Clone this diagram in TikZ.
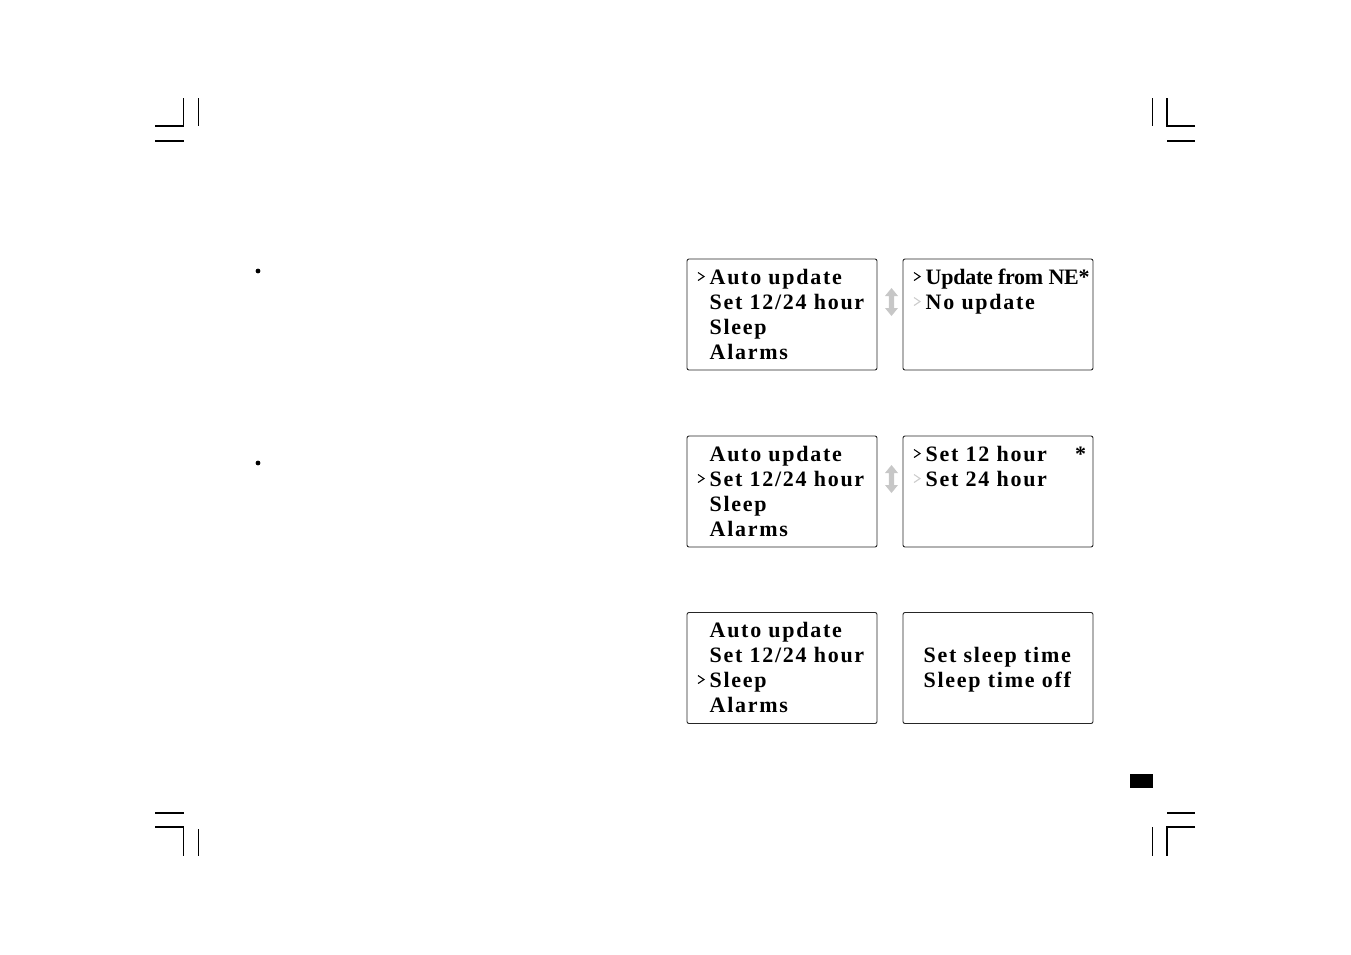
\documentclass[tikz,border=0pt]{standalone}
\usepackage{fontspec}
\newfontfamily\lcdfont{Liberation Serif}[LetterSpace=7.8]
\newfontfamily\lcdtight{Liberation Serif}[LetterSpace=-1.2]
\begin{document}
\begin{tikzpicture}[x=1pt,y=-1pt,
  crop/.style={line width=1.2pt},
  box/.style={draw=black!85,line width=0.9pt,rounded corners=2pt,minimum width=190pt,minimum height=111pt,inner sep=0pt},
  lcd/.style={anchor=base west,inner sep=0pt,font=\lcdfont\bfseries\fontsize{22}{25}\selectfont},
  lcdt/.style={anchor=base west,inner sep=0pt,font=\lcdtight\bfseries\fontsize{22}{25}\selectfont},
  chev/.style={line width=1.1pt,black},
  chevgray/.style={line width=1.1pt,black!20},
  updown/.style={fill=black!22,draw=none}]
\useasboundingbox (0,0) rectangle (1351,954);
\newcommand\mychevron[3]{\draw[#3] (#1,#2-11.5) -- (#1+6,#2-7.5) -- (#1,#2-3.5);}
\newcommand\myupdown[2]{\fill[updown,shift={(#1,#2)}] (0,-14) -- (6.5,-6) -- (2.7,-6) -- (2.7,6) -- (6.5,6) -- (0,14) -- (-6.5,6) -- (-2.7,6) -- (-2.7,-6) -- (-6.5,-6) -- cycle;}

% crop marks
\draw[crop] (155,126) -- (183.5,126) -- (183.5,98);
\draw[crop] (198.5,98) -- (198.5,126);
\draw[crop] (155,141) -- (183.5,141);
\draw[crop] (1195,126) -- (1167,126) -- (1167,98);
\draw[crop] (1152.5,98) -- (1152.5,126);
\draw[crop] (1167,141) -- (1195,141);
\draw[crop] (155,813) -- (183.5,813);
\draw[crop] (155,827) -- (183.5,827) -- (183.5,856);
\draw[crop] (198.5,829) -- (198.5,856);
\draw[crop] (1167,813) -- (1195,813);
\draw[crop] (1195,827) -- (1167,827) -- (1167,856);
\draw[crop] (1152.5,827) -- (1152.5,856);
\fill (1130,774) rectangle (1153,788);

% bullets
\fill (258,271) circle (2.4pt);
\fill (258,463) circle (2.4pt);

% row 1
\node[box] (b1l) at (782,314.5) {};
\node[box] (b1r) at (998,314.5) {};
\mychevron{698}{284}{chev}
\node[lcd] (t11) at (709.5,284) {Auto update};
\node[lcd] (t12) at (709.5,309) {Set 12/24 hour};
\node[lcd] (t13) at (709.5,334) {Sleep};
\node[lcd] (t14) at (709.5,359) {Alarms};
\myupdown{891.5}{302}
\mychevron{914}{284}{chev}
\mychevron{914}{309}{chevgray}
\node[lcdt] (r11) at (925.5,284) {Update from NE*};
\node[lcd] (r12) at (925.5,309) {No update};

% row 2
\node[box] (b2l) at (782,491.5) {};
\node[box] (b2r) at (998,491.5) {};
\mychevron{698}{486}{chev}
\node[lcd] (t21) at (709.5,461) {Auto update};
\node[lcd] (t22) at (709.5,486) {Set 12/24 hour};
\node[lcd] (t23) at (709.5,511) {Sleep};
\node[lcd] (t24) at (709.5,536) {Alarms};
\myupdown{891.5}{479}
\mychevron{914}{461}{chev}
\mychevron{914}{486}{chevgray}
\node[lcd] (r21) at (925.5,461) {Set 12 hour};
\node[lcdt] (r2s) at (1075,461) {*};
\node[lcd] (r22) at (925.5,486) {Set 24 hour};

% row 3
\node[box] (b3l) at (782,668) {};
\node[box] (b3r) at (998,668) {};
\mychevron{698}{687}{chev}
\node[lcd] (t31) at (709.5,637.5) {Auto update};
\node[lcd] (t32) at (709.5,662) {Set 12/24 hour};
\node[lcd] (t33) at (709.5,687) {Sleep};
\node[lcd] (t34) at (709.5,712) {Alarms};
\node[lcd] (r31) at (923.5,662) {Set sleep time};
\node[lcd] (r32) at (923.5,687) {Sleep time off};
\end{tikzpicture}
\end{document}
